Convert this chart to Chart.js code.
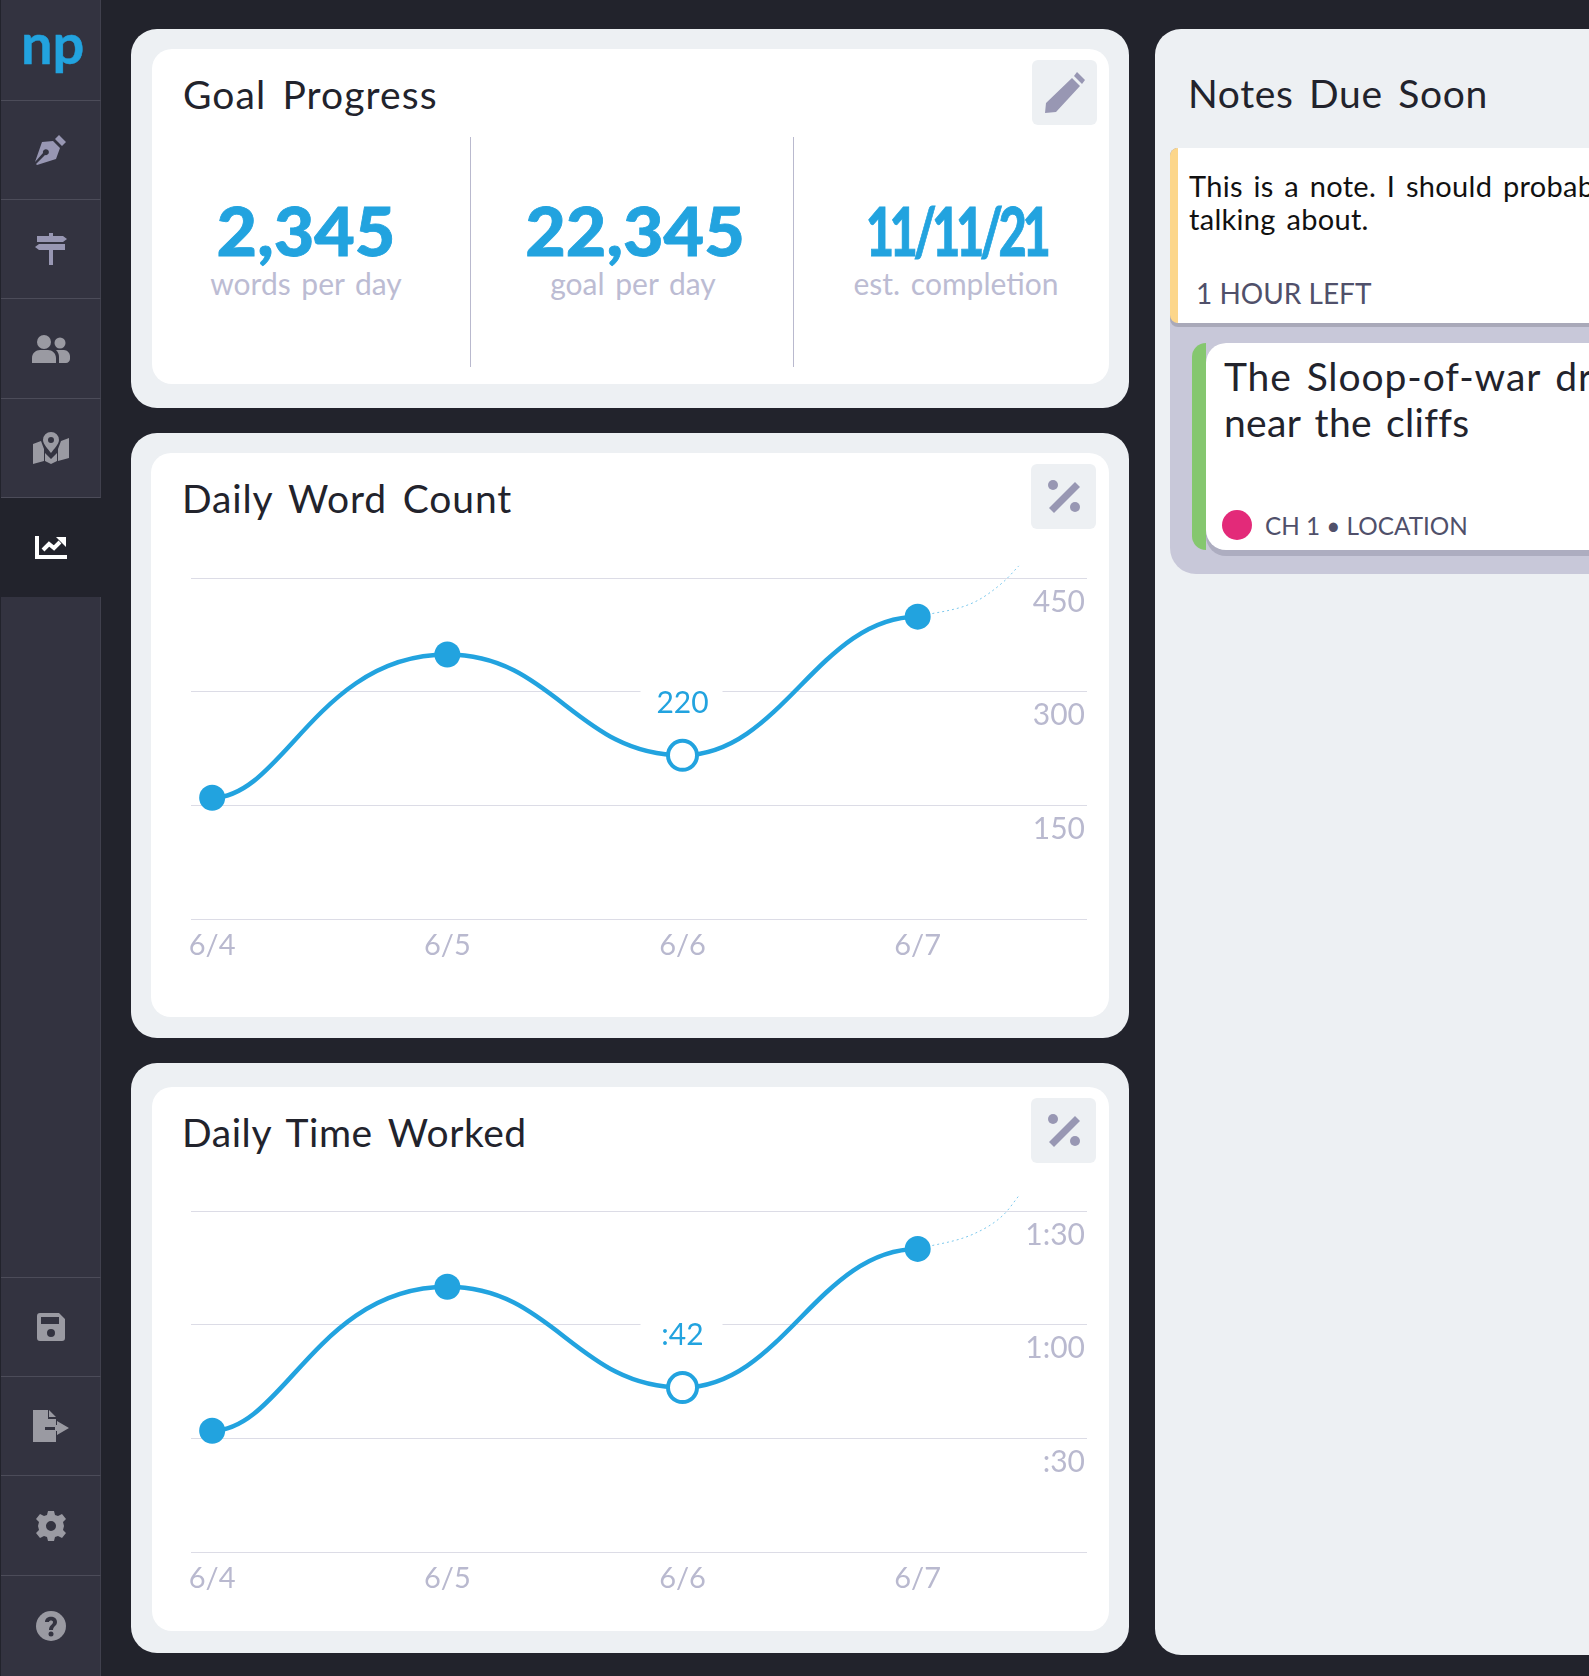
<!DOCTYPE html>
<html>
<head>
<meta charset="utf-8">
<title>Stats</title>
<script src="https://cdn.jsdelivr.net/npm/chart.js@4"></script>
<style>
html, body { margin: 0; padding: 0; background: #22232c; }
body { position: relative; width: 1589px; height: 1676px; overflow: hidden; font-family: Lato, sans-serif; color: #22232c; }
.abs { position: absolute; }
.side { position: absolute; left: 1px; width: 100px; background: #333340; border-right: 1px solid #40404d; border-bottom: 1px solid #4c4c59; box-sizing: border-box; }
.side svg { position: absolute; left: 50%; top: 50%; transform: translate(-50%, -50%); fill: #9a9aa2; }
.side.pen svg, .side.signs svg { fill: #9897b3; }
.panel { position: absolute; background: #edf0f3; border-radius: 26px; }
.inner { position: absolute; background: #fff; border-radius: 20px; }
.title { position: absolute; font-size: 39px; line-height: 46px; white-space: nowrap; word-spacing: 5px; }
.btn { position: absolute; width: 65px; height: 65px; background: #edf0f3; border-radius: 6px; }
.btn svg { position: absolute; left: 12px; top: 12px; fill: #9897b3; }
.big { position: absolute; width: 320px; text-align: center; color: #22a3df; font-size: 66px; line-height: 70px; font-weight: 900; -webkit-text-stroke: .8px #22a3df; transform: scaleX(1.06); }
.sub { position: absolute; width: 320px; text-align: center; color: #bcbcd3; font-size: 30px; line-height: 36px; word-spacing: 3px; }
.rule { position: absolute; width: 1px; background: #b9b9ce; }
canvas { position: absolute; }
.line { position: absolute; white-space: nowrap; }
</style>
</head>
<body>

<div class="side" style="top:0;height:101px">
  <div class="abs" style="left:20px;top:8px;font-size:56px;line-height:70px;font-weight:700;color:#22a3df;-webkit-text-stroke:.5px #22a3df">np</div>
</div>
<div class="side pen" style="top:101px;height:99px"><svg width="32" height="32" viewBox="0 0 32 32"><path d="M24 1l7 7-4 4-7-7zM18 7l7 7-4 11L2 31l-1-1 9-9a3 3 0 1 0-2-2l-8 9 7-20z"/></svg></div>
<div class="side signs" style="top:200px;height:99px"><svg width="32" height="32" viewBox="0 0 32 32"><path d="M14 0h4v3h10l4 3-4 3H2V3h12zM4 11h26v6H18v15h-4V17H4l-4-3z"/></svg></div>
<div class="side" style="top:299px;height:100px"><svg width="38" height="28" viewBox="0 0 38 28"><circle cx="12" cy="7" r="7"/><circle cx="28" cy="8" r="5.5"/><path d="M0 28v-5c0-5 4-8 8-8h8c4 0 8 3 8 8v5zM27 28v-6c0-3-1-5-3-7h8c3 0 6 3 6 6v3c0 2-2 4-4 4z"/></svg></div>
<div class="side" style="top:399px;height:99px"><svg width="36" height="32" viewBox="0 0 36 32"><path d="M18 0a8 8 0 0 1 8 8c0 4-5 9-8 13-3-4-8-9-8-13a8 8 0 0 1 8-8zm0 5a3 3 0 1 0 0 6 3 3 0 0 0 0-6zM0 12l8-3 3 8v12l-11 3zM12 21l6 6 6-6v8l-6 3-6-3zM25 17l3-8 8-3v20l-11 3z"/></svg></div>
<div class="abs" style="left:1px;top:498px;width:100px;height:99px;background:#22232c">
  <svg class="abs" style="left:34px;top:38px" width="32" height="24" viewBox="0 0 32 24"><path d="M0 0h4v19h28v4H0z" fill="#fff"/><path d="M8 14l6-6 5 4 6-6" fill="none" stroke="#fff" stroke-width="4"/><path d="M21 1h10v10z" fill="#fff"/></svg>
</div>
<div class="side" style="top:597px;height:681px"></div>
<div class="side" style="top:1278px;height:99px"><svg width="28" height="28" viewBox="0 0 28 28"><path d="M3 0h19l6 6v19a3 3 0 0 1-3 3H3a3 3 0 0 1-3-3V3a3 3 0 0 1 3-3zm1 4v7h18V4zm10 12a4 4 0 1 0 0 8 4 4 0 0 0 0-8z" fill-rule="evenodd"/></svg></div>
<div class="side" style="top:1377px;height:99px"><svg width="36" height="32" viewBox="0 0 36 32"><path d="M0 0h15v9h8v8H12v3h11v12H0zM16 0l7 7h-7zM24 11l12 7-12 7v-4h-2v-6h2z"/></svg></div>
<div class="side" style="top:1476px;height:100px"><svg width="30" height="30" viewBox="0 0 30 30"><path d="M12 0h6l1 4 3 1 4-2 4 5-3 3 1 4-1 4 3 3-4 5-4-2-3 1-1 4h-6l-1-4-3-1-4 2-4-5 3-3-1-4 1-4-3-3 4-5 4 2 3-1zm3 10a5 5 0 1 0 0 10 5 5 0 0 0 0-10z" fill-rule="evenodd"/></svg></div>
<div class="side" style="top:1576px;height:100px;border-bottom:0"><svg width="30" height="30" viewBox="0 0 30 30"><circle cx="15" cy="15" r="15"/><path d="M9 11c0-7 12-7 12 0 0 4-4 4-4 8h-4c0-5 4-5 4-8 0-2-4-2-4 0z" fill="#333340"/><circle cx="15" cy="23" r="2.5" fill="#333340"/></svg></div>

<!-- goal card -->
<div class="panel" style="left:131px;top:29px;width:998px;height:379px"></div>
<div class="inner" style="left:152px;top:49px;width:957px;height:335px"></div>
<div class="title" style="left:183px;top:71px;letter-spacing:1.1px">Goal Progress</div>
<div class="btn" style="left:1032px;top:60px"><svg width="42" height="42" viewBox="0 0 42 42"><path d="M33 0l8 8-3 4-8-8zM28 6l8 8L12 40l-11 1 1-10z"/></svg></div>
<div class="big" style="left:146px;top:196px">2,345</div>
<div class="sub" style="left:146px;top:265px">words per day</div>
<div class="rule" style="left:470px;top:137px;height:230px"></div>
<div class="big" style="left:475px;top:196px">22,345</div>
<div class="sub" style="left:473px;top:265px">goal per day</div>
<div class="rule" style="left:793px;top:137px;height:230px"></div>
<div class="big" style="left:796px;top:196px;letter-spacing:-6px;transform:scaleX(.74)">11/11/21</div>
<div class="sub" style="left:796px;top:265px">est. completion</div>

<!-- daily word count -->
<div class="panel" style="left:131px;top:433px;width:998px;height:605px"></div>
<div class="inner" style="left:151px;top:453px;width:958px;height:564px"></div>
<div class="title" style="left:182px;top:475px;letter-spacing:.87px">Daily Word Count</div>
<div class="btn" style="left:1031px;top:464px"><svg width="42" height="42" viewBox="0 0 42 42"><circle cx="10" cy="9" r="5"/><circle cx="32" cy="31" r="5"/><path d="M32 6l5 5-26 26-5-5z"/></svg></div>
<canvas id="wordChart" style="left:160px;top:540px" width="940" height="430"></canvas>

<!-- daily time worked -->
<div class="panel" style="left:131px;top:1063px;width:998px;height:590px"></div>
<div class="inner" style="left:152px;top:1087px;width:957px;height:544px"></div>
<div class="title" style="left:182px;top:1109px;letter-spacing:.57px">Daily Time Worked</div>
<div class="btn" style="left:1031px;top:1098px"><svg width="42" height="42" viewBox="0 0 42 42"><circle cx="10" cy="9" r="5"/><circle cx="32" cy="31" r="5"/><path d="M32 6l5 5-26 26-5-5z"/></svg></div>
<canvas id="timeChart" style="left:160px;top:1173px" width="940" height="430"></canvas>

<!-- notes -->
<div class="abs" style="left:1155px;top:29px;width:460px;height:1626px;background:#edf0f3;border-radius:26px 0 0 26px"></div>
<div class="title" style="left:1188px;top:70px;letter-spacing:.63px">Notes Due Soon</div>
<div class="abs" style="left:1170px;top:148px;width:430px;height:426px;background:#c8c8d9;border-radius:8px 0 0 26px"></div>
<div class="abs" style="left:1170px;top:148px;width:430px;height:179px;background:#a9a9b9;border-radius:8px 0 0 8px"></div>
<div class="abs" style="left:1170px;top:148px;width:430px;height:175px;background:#fff;border-radius:8px 0 0 8px;border-left:8px solid #fcd68a;box-sizing:border-box"></div>
<div class="line" style="left:1189px;top:169px;font-size:29px;line-height:34px;color:#111;word-spacing:3px;letter-spacing:.3px">This is a note. I should probably know what I'm</div>
<div class="line" style="left:1189px;top:202px;font-size:29px;line-height:34px;color:#111;word-spacing:3px;letter-spacing:.3px">talking about.</div>
<div class="line" style="left:1196px;top:276px;font-size:28px;line-height:34px;color:#50506a">1 HOUR LEFT</div>
<div class="abs" style="left:1206px;top:343px;width:400px;height:213px;background:#adadc0;border-radius:20px 0 0 20px"></div>
<div class="abs" style="left:1206px;top:343px;width:400px;height:207px;background:#fff;border-radius:20px 0 0 20px"></div>
<div class="abs" style="left:1192px;top:343px;width:14px;height:207px;background:#85c76f;border-radius:14px 0 0 14px"></div>
<div class="line" style="left:1224px;top:353px;font-size:39px;line-height:46px;word-spacing:4px;letter-spacing:.9px">The Sloop-of-war drifted</div>
<div class="line" style="left:1224px;top:399px;font-size:39px;line-height:46px;word-spacing:4px;letter-spacing:.3px">near the cliffs</div>
<div class="abs" style="left:1222px;top:510px;width:30px;height:30px;border-radius:50%;background:#e32a79"></div>
<div class="line" style="left:1265px;top:509px;font-size:24.3px;line-height:34px;color:#50506a">CH 1 • LOCATION</div>

<script>
const dayLabels = ['6/4', '6/5', '6/6', '6/7'];
const dayIndex = [0, 1, 2, 3];
const highlightDay = 2;

const wordCounts = [160, 349, 216, 399];
const wordTicks = [0, 150, 300, 450];
const wordTickLabels = ['', '150', '300', '450'];

const minutesWorked = [32, 70, 43.4, 80];
const minuteTicks = [0, 30, 60, 90];
const minuteTickLabels = ['', ':30', '1:00', '1:30'];

// faint dotted tail after the last day
const tailDays = [3, 3.24, 3.365, 3.43];
const wordTail = [399, 418, 445, 466];
const minuteTail = [80, 84, 89, 94];

// how far each point's curve handles reach, as a share of one day
const handleIn = [0, 0.55, 0.45, 0.42];
const handleOut = [0.3, 0.45, 0.42, 0];

const blue = '#22a3df';
const tickColor = '#b9b9cf';

// curve leaves every point level, with longer handles than chart.js gives
const curvePlugin = {
  id: 'curve',
  beforeDatasetsDraw(chart) {
    const line = chart.getDatasetMeta(0).dataset;
    line.updateControlPoints(chart.chartArea, 'x');
    const day = chart.scales.x.getPixelForValue(1) - chart.scales.x.getPixelForValue(0);
    line.points.forEach((p, i) => {
      p.cp1x = p.x - handleIn[i] * day;
      p.cp2x = p.x + handleOut[i] * day;
      p.cp1y = p.y;
      p.cp2y = p.y;
    });
  }
};

// the value printed over the hollow point, with a white gap in the gridline
const calloutPlugin = {
  id: 'callout',
  afterDatasetsDraw(chart, args, opts) {
    const ctx = chart.ctx;
    const x = chart.scales.x.getPixelForValue(highlightDay);
    const y = chart.scales.y.getPixelForValue(opts.value) - 52;
    ctx.save();
    ctx.fillStyle = '#fff';
    ctx.fillRect(x - 42, y - 18, 82, 36);
    ctx.fillStyle = blue;
    ctx.font = '30px Lato';
    ctx.textAlign = 'center';
    ctx.textBaseline = 'middle';
    ctx.fillText(opts.text, x, y);
    ctx.restore();
  }
};

function dayChart(id, values, tail, ticks, tickLabels, callout) {
  return new Chart(document.getElementById(id), {
    type: 'line',
    plugins: [curvePlugin, calloutPlugin],
    data: {
      datasets: [{
        data: dayIndex.map((d, i) => ({ x: d, y: values[i] })),
        borderColor: blue,
        borderWidth: 4.5,
        cubicInterpolationMode: 'monotone',
        pointRadius: ctx => ctx.dataIndex === highlightDay ? 14.5 : 13,
        pointBorderWidth: ctx => ctx.dataIndex === highlightDay ? 4 : 0,
        pointBorderColor: blue,
        pointBackgroundColor: ctx => ctx.dataIndex === highlightDay ? '#fff' : blue,
        order: 1
      }, {
        data: tailDays.map((d, i) => ({ x: d, y: tail[i] })),
        borderColor: '#7cc8ec',
        borderWidth: 1,
        borderDash: [2, 3],
        cubicInterpolationMode: 'monotone',
        pointRadius: 0,
        clip: false,
        order: 2
      }]
    },
    options: {
      responsive: false,
      animation: false,
      events: [],
      layout: { padding: { left: 31, right: 13, top: 38, bottom: 1 } },
      plugins: {
        legend: { display: false },
        tooltip: { enabled: false },
        callout: callout
      },
      scales: {
        x: {
          type: 'linear',
          min: -0.09,
          max: 3.72,
          afterBuildTicks: axis => { axis.ticks = dayIndex.map(d => ({ value: d })); },
          afterFit: axis => { axis.height = 50; },
          grid: { display: false, drawTicks: false },
          border: { display: false },
          ticks: {
            color: tickColor,
            font: { family: 'Lato', size: 29 },
            padding: 9,
            maxRotation: 0,
            autoSkip: false,
            callback: v => dayLabels[v]
          }
        },
        y: {
          position: 'right',
          min: ticks[0],
          max: ticks[ticks.length - 1],
          afterBuildTicks: axis => { axis.ticks = ticks.map(v => ({ value: v })); },
          afterFit: axis => { axis.width = 0; },
          grid: { color: '#dcdce6', lineWidth: 1, drawTicks: false },
          border: { display: false },
          ticks: {
            mirror: true,
            padding: -2,
            labelOffset: 24,
            color: tickColor,
            font: { family: 'Lato', size: 30 },
            callback: v => tickLabels[ticks.indexOf(v)]
          }
        }
      }
    }
  });
}

dayChart('wordChart', wordCounts, wordTail, wordTicks, wordTickLabels, { value: wordCounts[highlightDay], text: '220' });
dayChart('timeChart', minutesWorked, minuteTail, minuteTicks, minuteTickLabels, { value: minutesWorked[highlightDay], text: ':42' });
</script>
</body>
</html>
